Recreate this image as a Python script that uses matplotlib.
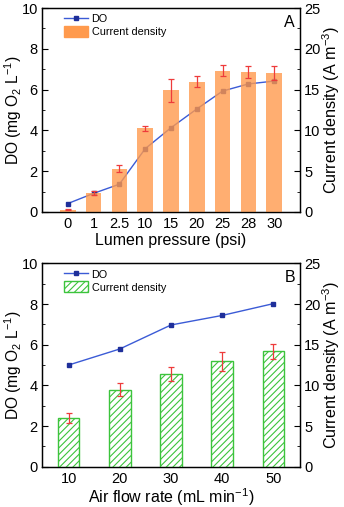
import numpy as np
import matplotlib
matplotlib.use('Agg')
import matplotlib.pyplot as plt
from matplotlib.ticker import MultipleLocator

plt.rcParams['font.family'] = ['Liberation Sans', 'DejaVu Sans']
plt.rcParams['mathtext.default'] = 'regular'
plt.rcParams['hatch.linewidth'] = 0.8
plt.rcParams['hatch.color'] = '#3cc43c'

# Panel A
pressure = ['0', '1', '2.5', '10', '15', '20', '25', '28', '30']
do_a = [0.41, 0.91, 1.36, 3.1, 4.13, 5.05, 5.93, 6.28, 6.42]
cd_a = [0.28, 2.33, 5.3, 10.28, 14.9, 15.98, 17.33, 17.17, 17.0]
cd_a_err = [0.05, 0.2, 0.41, 0.3, 1.43, 0.64, 0.68, 0.78, 0.86]

# Panel B
airflow = ['10', '20', '30', '40', '50']
do_b = [5.0, 5.79, 6.97, 7.44, 8.02]
cd_b = [5.98, 9.46, 11.4, 12.95, 14.2]
cd_b_err = [0.62, 0.78, 0.9, 1.15, 0.94]

fig = plt.figure(figsize=(3.44, 5.07), dpi=100)

line_col = '#3b5bd6'
mk_col = '#1f2f9a'
err_col = '#ee3b3b'
orange = '#ff9a4d'
green = '#3cc43c'


def style_axes(ax, ax2):
    ax.set_ylim(0, 10)
    ax.yaxis.set_major_locator(MultipleLocator(2))
    ax.yaxis.set_minor_locator(MultipleLocator(1))
    ax2.set_ylim(0, 25)
    ax2.yaxis.set_major_locator(MultipleLocator(5))
    ax2.yaxis.set_minor_locator(MultipleLocator(2.5))
    for a in (ax, ax2):
        a.tick_params(axis='y', which='major', direction='in', length=4, labelsize=10.5, pad=3)
        a.tick_params(axis='y', which='minor', direction='in', length=2)
        for s in a.spines.values():
            s.set_linewidth(0.9)
    ax.tick_params(axis='x', length=0, labelsize=10.5, pad=4)
    ax.set_ylabel('DO (mg O$_2$ L$^{-1}$)', fontsize=11.2)
    ax2.set_ylabel('Current density (A m$^{-3}$)', fontsize=11.6)
    ax.yaxis.set_label_coords(-0.07, 0.5)
    ax2.yaxis.set_label_coords(1.08, 0.5)


def add_legend(ax, handles):
    ax.legend(handles, ['DO', 'Current density'], loc='upper left',
              bbox_to_anchor=(0.085, 0.975), frameon=False, fontsize=7.8,
              borderpad=0, borderaxespad=0, handlelength=2.2, handleheight=1.2,
              handletextpad=0.35, labelspacing=0.15)


# ---- panel A ----
ax = fig.add_axes([0.122, 0.582, 0.750, 0.402])
ax2 = ax.twinx()
x = np.arange(len(pressure))
ln, = ax.plot(x, do_a, '-s', color=line_col, lw=1.0, ms=2.5,
              mfc=mk_col, mec=mk_col, zorder=1)
ax2.bar(x, cd_a, 0.6, color=orange, alpha=0.8, zorder=2)
ax2.errorbar(x, cd_a, yerr=cd_a_err, fmt='none', ecolor=err_col, elinewidth=0.9,
             capsize=2.5, capthick=0.9, zorder=3)
ax.set_xlim(-1, 9)
ax.set_xticks(x)
ax.set_xticklabels(pressure)
ax.set_xlabel('Lumen pressure (psi)', fontsize=11.5, labelpad=1)
style_axes(ax, ax2)
add_legend(ax, [ln, plt.Rectangle((0, 0), 1, 1, color=orange)])
ax.text(0.981, 0.929, 'A', transform=ax.transAxes, ha='right', va='center', fontsize=11.5)

# ---- panel B ----
bx = fig.add_axes([0.122, 0.0795, 0.750, 0.401])
bx2 = bx.twinx()
xb = np.arange(len(airflow))
ln2, = bx.plot(xb, do_b, '-s', color=line_col, lw=1.0, ms=2.5,
               mfc=mk_col, mec=mk_col, zorder=1)
bx2.bar(xb, cd_b, 0.42, facecolor='white', edgecolor=green, linewidth=1.0,
        hatch='/////', zorder=2)
bx2.errorbar(xb, cd_b, yerr=cd_b_err, fmt='none', ecolor=err_col, elinewidth=0.9,
             capsize=2.5, capthick=0.9, zorder=3)
bx.set_xlim(-0.52, 4.52)
bx.set_xticks(xb)
bx.set_xticklabels(airflow)
bx.set_xlabel('Air flow rate (mL min$^{-1}$)', fontsize=11.5, labelpad=0)
style_axes(bx, bx2)
add_legend(bx, [ln2, plt.Rectangle((0, 0), 1, 1, facecolor='white',
                                   edgecolor=green, hatch='/////')])
bx.text(0.981, 0.93, 'B', transform=bx.transAxes, ha='right', va='center', fontsize=11.5)

fig.savefig('out.png', dpi=100)
